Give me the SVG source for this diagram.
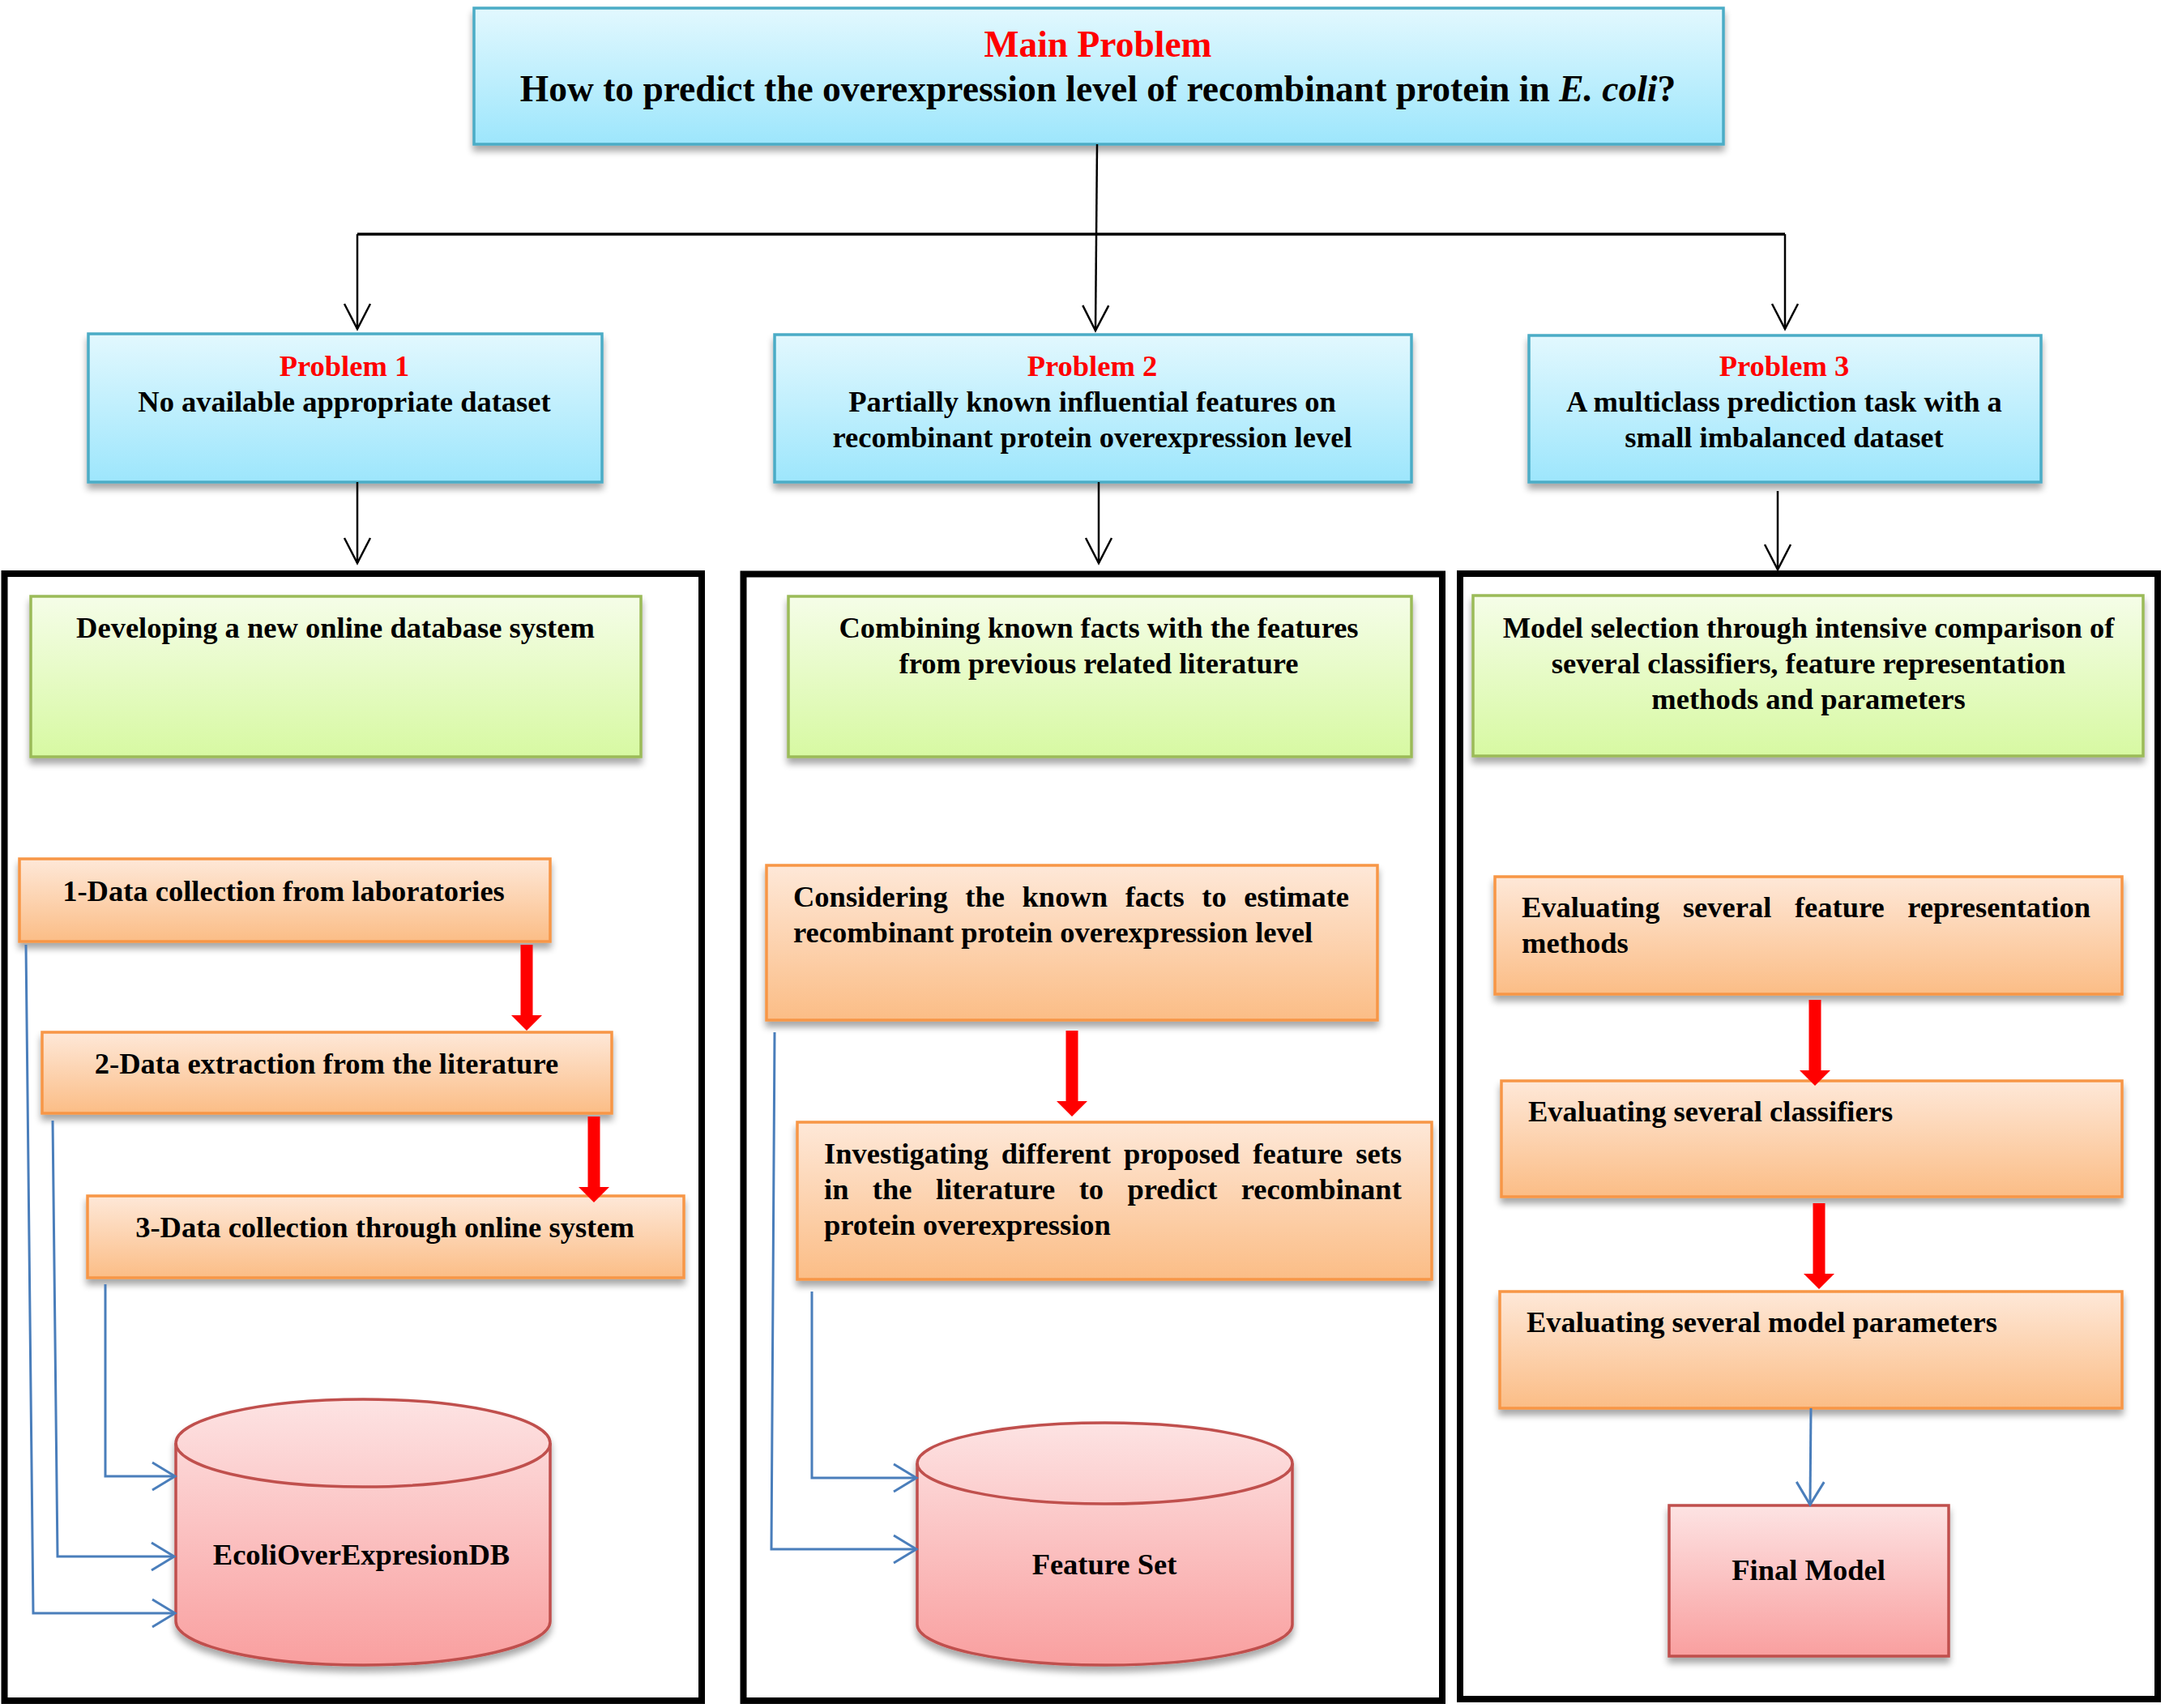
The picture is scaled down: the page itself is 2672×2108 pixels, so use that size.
<svg xmlns="http://www.w3.org/2000/svg" xmlns:xlink="http://www.w3.org/1999/xlink" width="2672" height="2108" viewBox="0 0 2672 2108">
<defs>
<linearGradient id="gBlue" x1="0" y1="0" x2="0" y2="1"><stop offset="0" stop-color="#e2f8fe"/><stop offset="1" stop-color="#9de6fc"/></linearGradient>
<linearGradient id="gGreen" x1="0" y1="0" x2="0" y2="1"><stop offset="0" stop-color="#f5fde8"/><stop offset="1" stop-color="#d7f9a2"/></linearGradient>
<linearGradient id="gOrange" x1="0" y1="0" x2="0" y2="1"><stop offset="0" stop-color="#fee8d8"/><stop offset="1" stop-color="#fbbd86"/></linearGradient>
<linearGradient id="gRed" x1="0" y1="0" x2="0" y2="1"><stop offset="0" stop-color="#fde3e3"/><stop offset="1" stop-color="#f99f9f"/></linearGradient>
<filter id="sh" x="-5%" y="-10%" width="110%" height="135%">
<feGaussianBlur in="SourceAlpha" stdDeviation="4"/>
<feOffset dx="0" dy="7" result="o"/>
<feComponentTransfer><feFuncA type="linear" slope="0.35"/></feComponentTransfer>
<feMerge><feMergeNode/><feMergeNode in="SourceGraphic"/></feMerge>
</filter>
<marker id="arrBlack" markerUnits="userSpaceOnUse" markerWidth="80" markerHeight="80" viewBox="-40 -40 80 80" refX="0" refY="0" orient="auto" overflow="visible">
<path d="M-31,-16 L0,0 L-31,16" fill="none" stroke="#000" stroke-width="2.5"/>
</marker>
<marker id="arrBlue" markerUnits="userSpaceOnUse" markerWidth="80" markerHeight="80" viewBox="-40 -40 80 80" refX="0" refY="0" orient="auto" overflow="visible">
<path d="M-28,-17 L0,0 L-28,17" fill="none" stroke="#4a7ebb" stroke-width="3"/>
</marker>
<path id="redArrow" d="M-7.5,-106 L7.5,-106 L7.5,-19 L19,-19 L0,0 L-19,-19 L-7.5,-19 Z" fill="#ff0000"/>
</defs>
<style>
text{font-family:"Liberation Serif","Times New Roman",serif;font-weight:bold;font-size:36.5px;fill:#000}
.c{text-anchor:middle}
.red{fill:#ff0000}
.big{font-size:45.5px}
.blue{fill:url(#gBlue);stroke:#4bacc6;stroke-width:3.5}
.green{fill:url(#gGreen);stroke:#9bbb59;stroke-width:3.5}
.orange{fill:url(#gOrange);stroke:#f79646;stroke-width:3.5}
.pink{fill:url(#gRed);stroke:#c0504d;stroke-width:3.5}
.frame{fill:none;stroke:#000;stroke-width:8}
.bl{fill:none;stroke:#000;stroke-width:2.5}
.bu{fill:none;stroke:#4a7ebb;stroke-width:3}
</style>
<rect width="2672" height="2108" fill="#fff"/>

<g id="frames">
<rect class="frame" x="5.5" y="708" width="860.5" height="1391"/>
<rect class="frame" x="917.5" y="708.5" width="862.5" height="1390.5"/>
<rect class="frame" x="1802" y="708" width="861" height="1389"/>
</g>

<g id="main-problem">
<rect class="blue" x="585" y="10" width="1542" height="168" filter="url(#sh)"/>
<text class="c red big" x="1355" y="70">Main Problem</text>
<text class="c big" x="1355" y="125">How to predict the overexpression level of recombinant protein in <tspan font-style="italic">E. coli</tspan>?</text>
</g>

<g id="problem1">
<rect class="blue" x="109" y="412" width="634" height="183" filter="url(#sh)"/>
<text class="c red" x="425" y="464">Problem 1</text>
<text class="c" x="425" y="508">No available appropriate dataset</text>
</g>
<g id="problem2">
<rect class="blue" x="956" y="413" width="786" height="182" filter="url(#sh)"/>
<text class="c red" x="1348" y="464">Problem 2</text>
<text class="c" x="1348" y="508">Partially known influential features on</text>
<text class="c" x="1348" y="552">recombinant protein overexpression level</text>
</g>
<g id="problem3">
<rect class="blue" x="1887" y="414" width="632" height="181" filter="url(#sh)"/>
<text class="c red" x="2202" y="464">Problem 3</text>
<text class="c" x="2202" y="508">A multiclass prediction task with a</text>
<text class="c" x="2202" y="552">small imbalanced dataset</text>
</g>

<g id="solution1">
<rect class="green" x="38" y="736" width="753" height="198" filter="url(#sh)"/>
<text class="c" x="414" y="787">Developing a new online database system</text>
</g>
<g id="solution2">
<rect class="green" x="973" y="736" width="769" height="198" filter="url(#sh)"/>
<text class="c" x="1356" y="787">Combining known facts with the features</text>
<text class="c" x="1356" y="831">from previous related literature</text>
</g>
<g id="solution3">
<rect class="green" x="1818" y="735" width="827" height="198" filter="url(#sh)"/>
<text class="c" x="2232" y="787">Model selection through intensive comparison of</text>
<text class="c" x="2232" y="831">several classifiers, feature representation</text>
<text class="c" x="2232" y="875">methods and parameters</text>
</g>

<g id="step1-1">
<rect class="orange" x="24" y="1060" width="655" height="102" filter="url(#sh)"/>
<text class="c" x="350" y="1112">1-Data collection from laboratories</text>
</g>
<g id="step1-2">
<rect class="orange" x="52" y="1274" width="703" height="100" filter="url(#sh)"/>
<text class="c" x="403" y="1325">2-Data extraction from the literature</text>
</g>
<g id="step1-3">
<rect class="orange" x="108" y="1476" width="736" height="101" filter="url(#sh)"/>
<text class="c" x="475" y="1527">3-Data collection through online system</text>
</g>
<g id="db1">
<path class="pink" d="M217,1781 A231,54 0 0 1 679,1781 L679,2001 A231,54 0 0 1 217,2001 Z" filter="url(#sh)"/>
<path d="M217,1781 A231,54 0 0 0 679,1781" fill="none" stroke="#c0504d" stroke-width="3.5"/>
<text class="c" x="446" y="1931">EcoliOverExpresionDB</text>
</g>

<g id="step2-1">
<rect class="orange" x="946" y="1068" width="754" height="191" filter="url(#sh)"/>
<text x="979" y="1119" word-spacing="12.5">Considering the known facts to estimate</text>
<text x="979" y="1163">recombinant protein overexpression level</text>
</g>
<g id="step2-2">
<rect class="orange" x="984" y="1385" width="783" height="194" filter="url(#sh)"/>
<text x="1017" y="1436" word-spacing="6.9">Investigating different proposed feature sets</text>
<text x="1017" y="1480" word-spacing="20.3">in the literature to predict recombinant</text>
<text x="1017" y="1524">protein overexpression</text>
</g>
<g id="db2">
<path class="pink" d="M1132,1806 A231.5,50 0 0 1 1595,1806 L1595,2005 A231.5,50 0 0 1 1132,2005 Z" filter="url(#sh)"/>
<path d="M1132,1806 A231.5,50 0 0 0 1595,1806" fill="none" stroke="#c0504d" stroke-width="3.5"/>
<text class="c" x="1363" y="1943">Feature Set</text>
</g>

<g id="step3-1">
<rect class="orange" x="1845" y="1082" width="774" height="145" filter="url(#sh)"/>
<text x="1878" y="1132" word-spacing="19.4">Evaluating several feature representation</text>
<text x="1878" y="1176">methods</text>
</g>
<g id="step3-2">
<rect class="orange" x="1853" y="1334" width="766" height="143" filter="url(#sh)"/>
<text x="1886" y="1384">Evaluating several classifiers</text>
</g>
<g id="step3-3">
<rect class="orange" x="1851" y="1594" width="768" height="144" filter="url(#sh)"/>
<text x="1884" y="1644">Evaluating several model parameters</text>
</g>
<g id="final-model">
<rect class="pink" x="2060" y="1858" width="345" height="186" filter="url(#sh)"/>
<text class="c" x="2232" y="1950">Final Model</text>
</g>

<g id="connectors">
<path class="bl" d="M1354,178 L1352,408" marker-end="url(#arrBlack)"/>
<path d="M441,289 L2203,289" fill="none" stroke="#000" stroke-width="3.5"/>
<path class="bl" d="M441,289 L441,406" marker-end="url(#arrBlack)"/>
<path class="bl" d="M2203,289 L2203,406" marker-end="url(#arrBlack)"/>
<path class="bl" d="M441,595 L441,695" marker-end="url(#arrBlack)"/>
<path class="bl" d="M1356,595 L1356,695" marker-end="url(#arrBlack)"/>
<path class="bl" d="M2194,606 L2194,703" marker-end="url(#arrBlack)"/>
<use xlink:href="#redArrow" x="650" y="1272"/>
<use xlink:href="#redArrow" x="733" y="1484"/>
<use xlink:href="#redArrow" x="1323" y="1378"/>
<use xlink:href="#redArrow" x="2240" y="1340"/>
<use xlink:href="#redArrow" x="2245" y="1591"/>
<path class="bu" d="M32,1166 L41,1991 L216,1991" marker-end="url(#arrBlue)"/>
<path class="bu" d="M65,1383 L71,1921 L215,1921" marker-end="url(#arrBlue)"/>
<path class="bu" d="M130,1585 L130,1822 L216,1822" marker-end="url(#arrBlue)"/>
<path class="bu" d="M956,1274 L952,1912 L1131,1912" marker-end="url(#arrBlue)"/>
<path class="bu" d="M1002,1594 L1002,1824 L1131,1824" marker-end="url(#arrBlue)"/>
<path class="bu" d="M2235,1738 L2234,1857" marker-end="url(#arrBlue)"/>
</g>
</svg>
